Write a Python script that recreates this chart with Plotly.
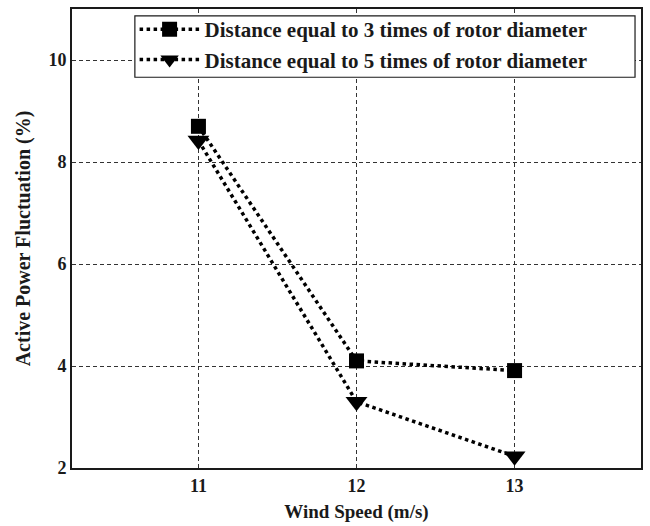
import plotly.graph_objects as go

wind_speed = [11, 12, 13]
dist3 = [8.7, 4.1, 3.91]
dist5 = [8.42, 3.3, 2.23]
names = ["Distance equal to 3 times of rotor diameter",
         "Distance equal to 5 times of rotor diameter"]

font_family = "Liberation Serif, Times New Roman, serif"
txt = "#1a1a1a"

fig = go.Figure()
fig.add_trace(go.Scatter(x=wind_speed, y=dist3, mode="lines+markers", name=names[0],
                         line=dict(color="black", width=3.5, dash="dot"),
                         marker=dict(symbol="square", size=15, color="black")))
fig.add_trace(go.Scatter(x=wind_speed, y=dist5, mode="lines+markers", name=names[1],
                         line=dict(color="black", width=3.5, dash="dot"),
                         marker=dict(symbol="triangle-down", size=19, color="black")))

# legend frame (white box with border) behind the legend entries
fig.add_shape(type="rect", xref="paper", yref="paper",
              x0=0.1105, x1=0.9895, y0=0.8513, y1=0.985,
              line=dict(color="#1a1a1a", width=1.2), fillcolor="white", layer="above")

fig.update_layout(
    width=650, height=526,
    margin=dict(l=72, r=8, t=7, b=55),
    paper_bgcolor="white", plot_bgcolor="white",
    font=dict(family=font_family, size=18, color=txt),
    legend=dict(x=0.110, y=1.0, xanchor="left", yanchor="top",
                borderwidth=0, bgcolor="rgba(0,0,0,0)",
                itemwidth=60,
                font=dict(family=font_family, size=21, color=txt, weight="bold"),
                tracegroupgap=0),
    showlegend=True,
)
fig.update_xaxes(range=[10.2, 13.8], tickvals=[11, 12, 13],
                 showgrid=True, gridcolor="#333", griddash="4px,3px", gridwidth=1,
                 showline=True, linecolor="#1a1a1a", linewidth=1.8, mirror=True,
                 zeroline=False, ticks="",
                 tickfont=dict(family=font_family, size=18, weight="bold", color=txt),
                 title=dict(text="<b>Wind Speed (m/s)</b>", standoff=10,
                            font=dict(family=font_family, size=19, color=txt)))
fig.update_yaxes(range=[2, 11], tickvals=[2, 4, 6, 8, 10],
                 showgrid=True, gridcolor="#333", griddash="4px,3px", gridwidth=1,
                 showline=True, linecolor="#1a1a1a", linewidth=1.8, mirror=True,
                 zeroline=False, ticks="",
                 tickfont=dict(family=font_family, size=18, weight="bold", color=txt),
                 title=dict(text="<b>Active Power Fluctuation (%)</b>", standoff=13,
                            font=dict(family=font_family, size=20, color=txt)))

fig.write_html("out.html")
